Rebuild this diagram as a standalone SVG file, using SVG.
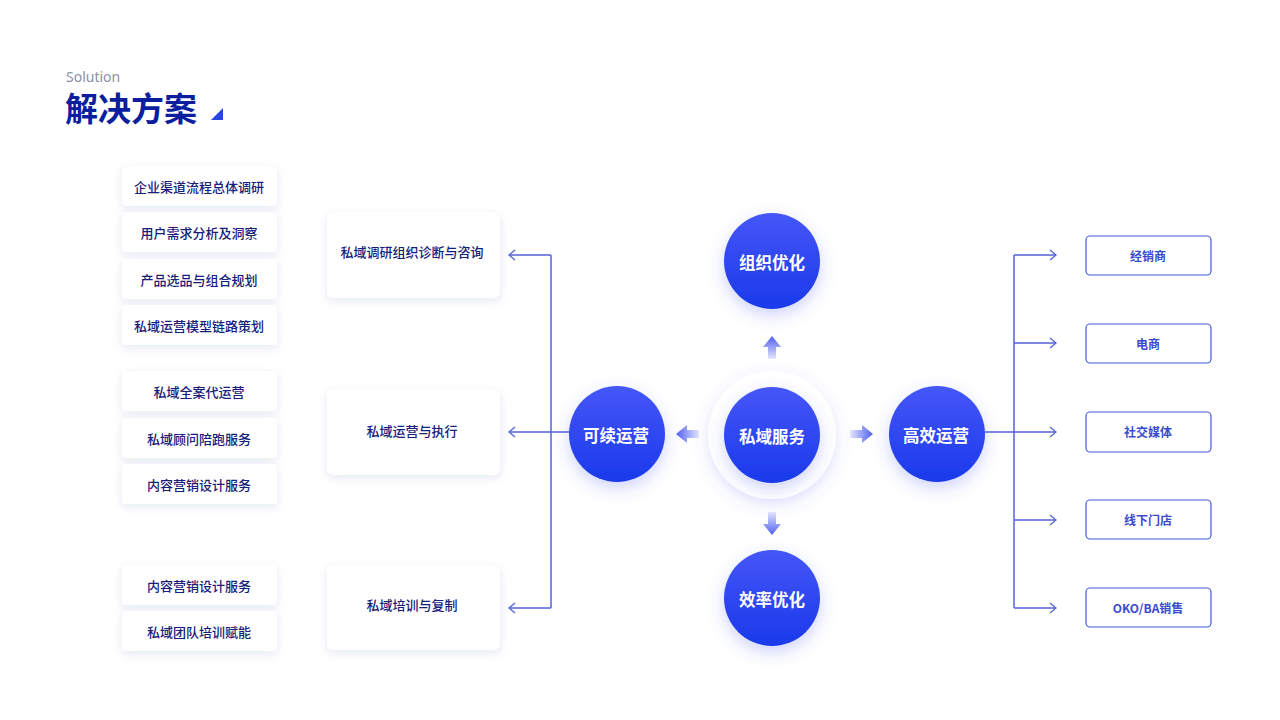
<svg xmlns="http://www.w3.org/2000/svg" width="1280" height="720" viewBox="0 0 1280 720">
<defs>
<style>
.cn{font-family:"Noto Sans CJK SC","Noto Sans",sans-serif}
.lt{font-size:13px;font-weight:500;fill:#16207a;text-anchor:middle;dominant-baseline:central}
.ct{font-size:16.5px;font-weight:700;fill:#ffffff;text-anchor:middle;dominant-baseline:central}
.rt{font-size:12px;font-weight:700;fill:#3b4bd0;text-anchor:middle;dominant-baseline:central}
.box{fill:#ffffff;filter:url(#sh)}
.rbox{fill:#ffffff;stroke:#4a58d6;stroke-width:1.2}
.ln{fill:none;stroke:#5563dc;stroke-width:1.5}
.ah{fill:none;stroke:#5563dc;stroke-width:1.3}
</style>
<filter id="sh" x="-20%" y="-30%" width="140%" height="170%">
<feDropShadow dx="0" dy="3" stdDeviation="4" flood-color="#1a2a80" flood-opacity="0.10"/>
</filter>
<filter id="csh" x="-50%" y="-50%" width="200%" height="200%">
<feDropShadow dx="0" dy="6" stdDeviation="8" flood-color="#3b4cf0" flood-opacity="0.25"/>
</filter>
<filter id="hsh" x="-50%" y="-50%" width="200%" height="200%">
<feDropShadow dx="0" dy="5" stdDeviation="8" flood-color="#5060f0" flood-opacity="0.18"/>
</filter>
<linearGradient id="cg" x1="0" y1="0" x2="0" y2="1">
<stop offset="0" stop-color="#4556f8"/>
<stop offset="1" stop-color="#1a39ea"/>
</linearGradient>
<linearGradient id="au" x1="0" y1="0" x2="0" y2="1">
<stop offset="0" stop-color="#4f5ff0"/>
<stop offset="1" stop-color="#4f5ff0" stop-opacity="0.15"/>
</linearGradient>
<linearGradient id="ad" x1="0" y1="1" x2="0" y2="0">
<stop offset="0" stop-color="#4f5ff0"/>
<stop offset="1" stop-color="#4f5ff0" stop-opacity="0.15"/>
</linearGradient>
<linearGradient id="al" x1="0" y1="0" x2="1" y2="0">
<stop offset="0" stop-color="#4f5ff0"/>
<stop offset="1" stop-color="#4f5ff0" stop-opacity="0.15"/>
</linearGradient>
<linearGradient id="ar" x1="1" y1="0" x2="0" y2="0">
<stop offset="0" stop-color="#4f5ff0"/>
<stop offset="1" stop-color="#4f5ff0" stop-opacity="0.15"/>
</linearGradient>
</defs>
<rect width="1280" height="720" fill="#ffffff"/>

<g id="title">
<text x="66" y="82" font-family="'Noto Sans','Open Sans',sans-serif" font-size="14" fill="#8a90a6">Solution</text>
<text x="65" y="121" class="cn" font-size="33" font-weight="700" fill="#0a1e9e">解决方案</text>
<polygon points="223,108 223,120 211,120" fill="#2a45e6"/>
</g>

<g id="left-items">
<g id="l1"><rect class="box" x="122" y="166" width="155" height="40" rx="4"/><text class="cn lt" x="199" y="186">企业渠道流程总体调研</text></g>
<g id="l2"><rect class="box" x="122" y="212" width="155" height="40" rx="4"/><text class="cn lt" x="199" y="232">用户需求分析及洞察</text></g>
<g id="l3"><rect class="box" x="122" y="259" width="155" height="40" rx="4"/><text class="cn lt" x="199" y="279">产品选品与组合规划</text></g>
<g id="l4"><rect class="box" x="122" y="305" width="155" height="40" rx="4"/><text class="cn lt" x="199" y="325">私域运营模型链路策划</text></g>
<g id="l5"><rect class="box" x="122" y="371" width="155" height="40" rx="4"/><text class="cn lt" x="199" y="391">私域全案代运营</text></g>
<g id="l6"><rect class="box" x="122" y="418" width="155" height="40" rx="4"/><text class="cn lt" x="199" y="438">私域顾问陪跑服务</text></g>
<g id="l7"><rect class="box" x="122" y="464" width="155" height="40" rx="4"/><text class="cn lt" x="199" y="484">内容营销设计服务</text></g>
<g id="l8"><rect class="box" x="122" y="565" width="155" height="40" rx="4"/><text class="cn lt" x="199" y="585">内容营销设计服务</text></g>
<g id="l9"><rect class="box" x="122" y="611" width="155" height="40" rx="4"/><text class="cn lt" x="199" y="631">私域团队培训赋能</text></g>
</g>

<g id="mid-items">
<g id="m1"><rect class="box" x="327" y="212" width="173" height="86" rx="7"/><text class="cn lt" x="412" y="251">私域调研组织诊断与咨询</text></g>
<g id="m2"><rect class="box" x="327" y="389" width="173" height="86" rx="7"/><text class="cn lt" x="412" y="430">私域运营与执行</text></g>
<g id="m3"><rect class="box" x="327" y="565" width="173" height="85" rx="7"/><text class="cn lt" x="412" y="604">私域培训与复制</text></g>
</g>

<g id="connectors">
<path class="ln" d="M551,255 V608 M551,255 H510 M551,432 H510 M551,608 H510 M551,432 H570"/>
<path class="ah" d="M515,250 L509,255 L515,260 M515,427 L509,432 L515,437 M515,603 L509,608 L515,613"/>
<path class="ln" d="M985,432 H1014 M1014,255 V608 M1014,255 H1056 M1014,343 H1056 M1014,432 H1056 M1014,520 H1056 M1014,608 H1056"/>
<path class="ah" d="M1050,250 L1056,255 L1050,260 M1050,338 L1056,343 L1050,348 M1050,427 L1056,432 L1050,437 M1050,515 L1056,520 L1050,525 M1050,603 L1056,608 L1050,613"/>
<g id="small-arrows">
<polygon points="772,336 781,347 776,347 776,359 768,359 768,347 763,347" fill="url(#au)"/>
<polygon points="772,535 781,524 776,524 776,512 768,512 768,524 763,524" fill="url(#ad)"/>
<polygon points="676,434 687,425 687,430 699,430 699,438 687,438 687,443" fill="url(#al)"/>
<polygon points="873,434 862,425 862,430 850,430 850,438 862,438 862,443" fill="url(#ar)"/>
</g>
</g>

<g id="c-center">
<circle cx="772" cy="435" r="64" fill="#ffffff" filter="url(#hsh)"/>
<circle cx="772" cy="435" r="48" fill="url(#cg)" filter="url(#csh)"/>
<text class="cn ct" x="772" y="436">私域服务</text>
</g>
<g id="c-top">
<circle cx="772" cy="261" r="48" fill="url(#cg)" filter="url(#csh)"/>
<text class="cn ct" x="772" y="262">组织优化</text>
</g>
<g id="c-bottom">
<circle cx="772" cy="598" r="48" fill="url(#cg)" filter="url(#csh)"/>
<text class="cn ct" x="772" y="599">效率优化</text>
</g>
<g id="c-left">
<circle cx="617" cy="434" r="48" fill="url(#cg)" filter="url(#csh)"/>
<text class="cn ct" x="616" y="435">可续运营</text>
</g>
<g id="c-right">
<circle cx="937" cy="434" r="48" fill="url(#cg)" filter="url(#csh)"/>
<text class="cn ct" x="936" y="435">高效运营</text>
</g>

<g id="right-items">
<g id="r1"><rect class="rbox" x="1086" y="236" width="125" height="39" rx="4"/><text class="cn rt" x="1148" y="255">经销商</text></g>
<g id="r2"><rect class="rbox" x="1086" y="324" width="125" height="39" rx="4"/><text class="cn rt" x="1148" y="343">电商</text></g>
<g id="r3"><rect class="rbox" x="1086" y="412" width="125" height="40" rx="4"/><text class="cn rt" x="1148" y="431">社交媒体</text></g>
<g id="r4"><rect class="rbox" x="1086" y="500" width="125" height="39" rx="4"/><text class="cn rt" x="1148" y="519">线下门店</text></g>
<g id="r5"><rect class="rbox" x="1086" y="588" width="125" height="39" rx="4"/><text class="cn rt" x="1148" y="607">OKO/BA销售</text></g>
</g>
</svg>
